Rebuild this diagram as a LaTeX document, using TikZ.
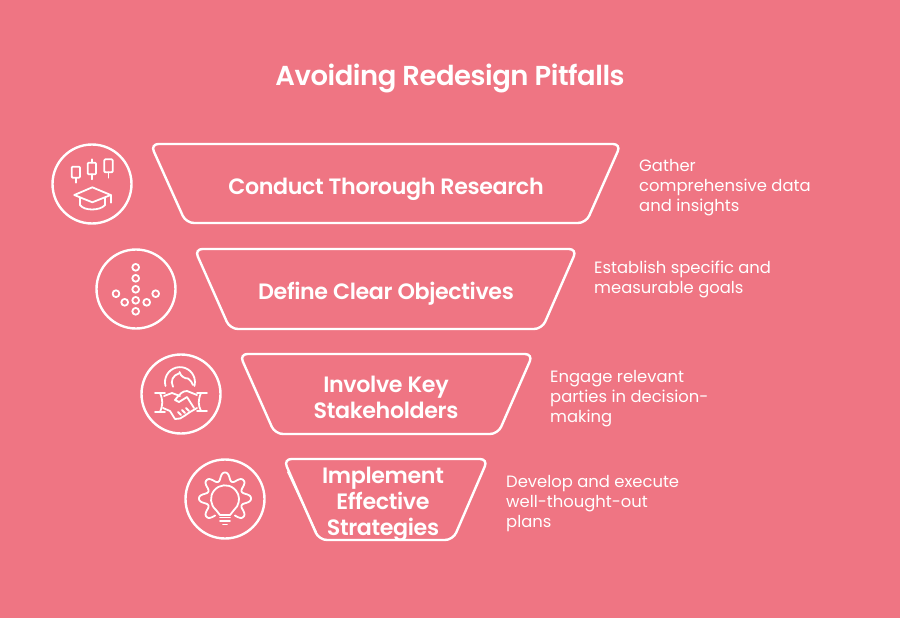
\documentclass[tikz,border=0pt]{standalone}
\usepackage{fontspec}
\setmainfont{Poppins}
\newfontfamily\headfont[LetterSpace=-1.6]{Poppins SemiBold}
\usepackage{tikz}
\usetikzlibrary{positioning}
\definecolor{rosebg}{HTML}{EF7583}
\tikzset{funnel/.style={draw=white,line width=2.4pt,rounded corners=8pt}}
\tikzset{ring/.style={circle,draw=white,line width=2.4pt,minimum size=79pt,inner sep=0pt}}
\tikzset{head/.style={text=white,font=\headfont\fontsize{22.2}{26}\selectfont,align=center,inner sep=0pt}}
\tikzset{note/.style={text=white,font=\fontsize{16.4}{20}\selectfont,align=left,inner sep=0pt,anchor=north west}}
\tikzset{glyph/.style={draw=white,line width=1.8pt,line cap=round,line join=round}}
\begin{document}
\begin{tikzpicture}[x=1pt,y=-1pt]
   \fill[rosebg] (0,0) rectangle (900,618);
   \useasboundingbox (0,0) rectangle (900,618);
   \node[head,font=\headfont\fontsize{27.4}{30}\selectfont] (Title) at (450,78) {Avoiding Redesign Pitfalls};

   % funnel
   \draw[funnel] (150.5,144) -- (621,144) -- (586,223) -- (186,223) -- cycle;
   \draw[funnel] (194.5,249) -- (577,249) -- (542,329) -- (230,329) -- cycle;
   \draw[funnel] (239.5,354) -- (533,354) -- (498,434) -- (275,434) -- cycle;
   \draw[funnel] (283.5,459) -- (488,459) -- (453,540) -- (319,540) -- cycle;
   \draw[glyph] (288,472) -- (316,532);

   \node[head] (Research)   at (386,189) {Conduct Thorough Research};
   \node[head] (Objectives) at (386,294) {Define Clear Objectives};
   \node[head] (Keys)       at (386,397) {Involve Key\\Stakeholders};
   \node[head] (Strategies) at (383,504.5) {Implement\\Effective\\Strategies};

   \node[note] (GatherTxt)  at (639,159) {Gather\\comprehensive data\\and insights};
   \node[note] (DefineTxt)  at (594,261) {Establish specific and\\measurable goals};
   \node[note] (EngageTxt)  at (550,370) {Engage relevant\\parties in decision-\\making};
   \node[note] (DevelopTxt) at (506,475) {Develop and execute\\well-thought-out\\plans};

   \node[ring] (Ring0) at (92,184)  {};
   \node[ring] (Ring1) at (136,289) {};
   \node[ring] (Ring2) at (181,394) {};
   \node[ring] (Ring3) at (225,499) {};

   % candles and cap
   \draw[glyph,rounded corners=1pt] (71.7,166.7) rectangle (80,177.7);
   \draw[glyph,rounded corners=1pt] (87.7,162.7) rectangle (96,174.3);
   \draw[glyph,rounded corners=1pt] (104.3,159.3) rectangle (112.7,172.3);
   \draw[glyph] (75.8,177.7) -- (75.8,182.7) (91.8,159.3) -- (91.8,162.7) (91.8,174.3) -- (91.8,179.3) (108.5,172.3) -- (108.5,177.7);
   \draw[glyph] (74.3,195) -- (92.3,187.3) -- (110.7,195) -- (92.3,202.3) -- cycle;
   \draw[glyph] (80,198) -- (80,205) .. controls (84,211) and (100,211) .. (105,205) -- (105,198);
   \draw[glyph] (110.7,195) -- (110.7,202.7);

   % dots arrow
   \foreach \dx/\dy in {135.7/267.3,135.7/278.3,135.7/289.3,135.7/300.3,135.7/311.3,124.7/302.3,146.7/302.3,116/293.7,155.7/293.7}
      \draw[glyph] (\dx,\dy) circle (3.4pt);

   % globe and handshake
   \draw[glyph] (165.5,386) arc (195:-15:15pt);
   \draw[glyph] (173,386.7) .. controls (170,381) and (173,375) .. (179,373.5);
   \draw[glyph] (179.5,372) .. controls (181,377) and (185,378.5) .. (188,378.5) .. controls (191,380) and (192,383) .. (193,385);
   \draw[glyph] (155,393) -- (165,393) (155,412) -- (165,412) (160,393) .. controls (163,400) and (163,405) .. (160,412);
   \draw[glyph] (207,393) -- (197,393) (207,411) -- (197,411) (201,393) .. controls (198,400) and (198,405) .. (201,411);
   \draw[glyph] (164,396) -- (172,393) -- (180,396);
   \draw[glyph] (197,395) -- (187,391) .. controls (182,391) and (180,394) .. (175,400) -- (179,402) -- (187,397) -- (194,408);
   \draw[glyph] (163,408) -- (170,411) -- (175,419) -- (180,418.5) -- (185,415.5) -- (190,412) -- (197,408);
   \draw[glyph] (178,412) -- (181,415) (182,410) -- (185,413) (186,408) -- (189,411);

   % gear and bulb
   \draw[glyph,smooth,samples=120,domain=-60:240] plot ({225+(22+4*(1.25*cos(8*(\x-90))-0.25*pow(cos(8*(\x-90)),3)))*cos(\x)},{498.5-(22+4*(1.25*cos(8*(\x-90))-0.25*pow(cos(8*(\x-90)),3)))*sin(\x)});
   \draw[glyph] (216,510) arc (230:-50:14pt);
   \draw[glyph] (216,510) -- (220,515) -- (230,515) -- (234,510);
   \draw[glyph] (220,517.5) -- (230,517.5) (220,521) -- (230,521) (223,524.5) -- (227,524.5);
\end{tikzpicture}
\end{document}
